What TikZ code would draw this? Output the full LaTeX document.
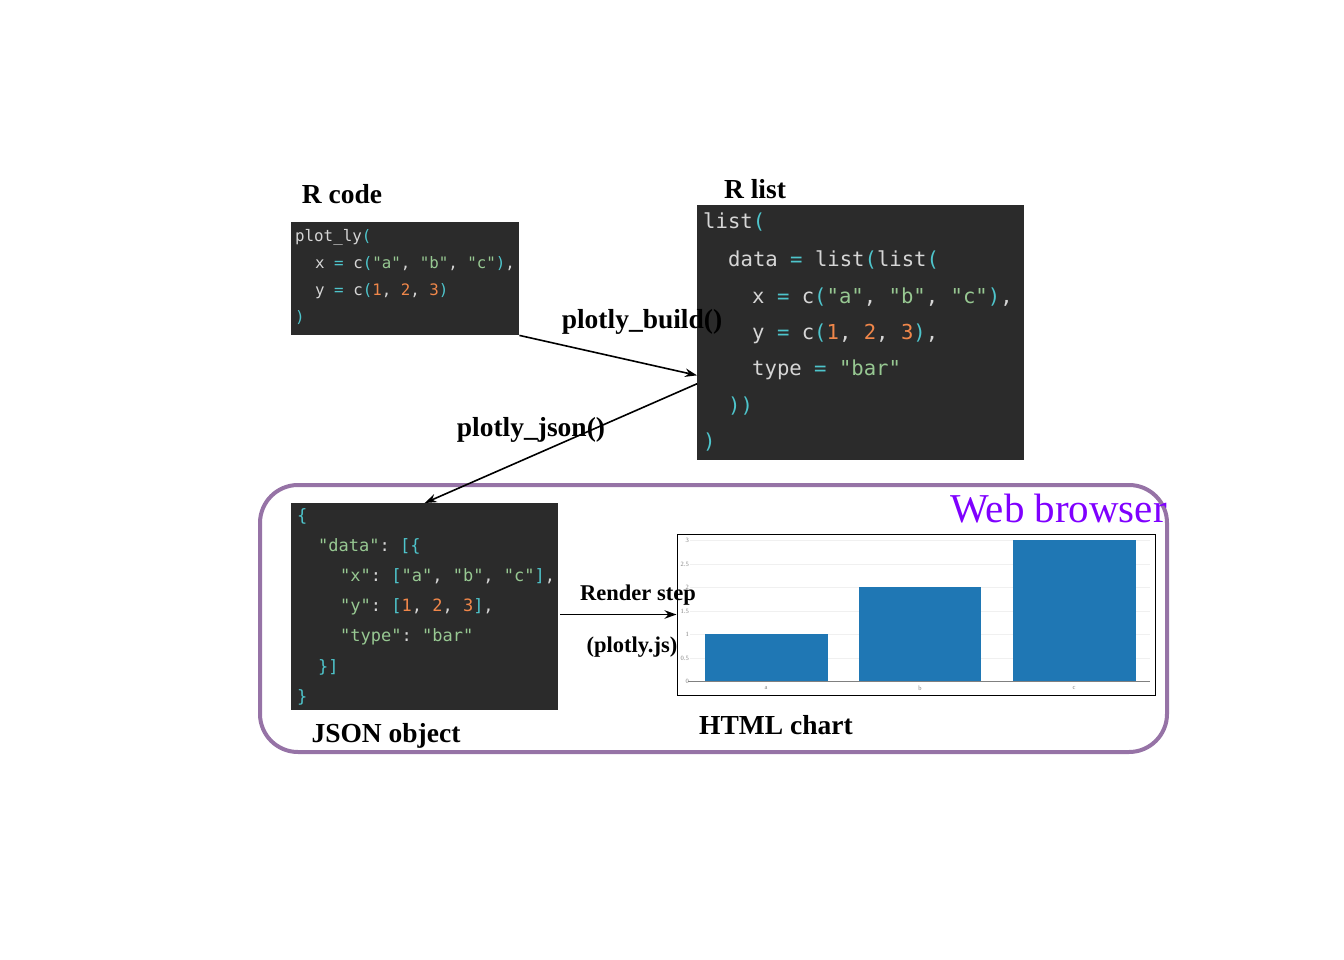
\documentclass[tikz,border=0pt]{standalone}
\usepackage{fontspec}
\setmainfont{Liberation Serif}
\setmonofont{DejaVu Sans Mono}
\usetikzlibrary{arrows.meta,calc}
\definecolor{codebg}{HTML}{2B2B2B}
\definecolor{codetext}{HTML}{D6D6D6}
\definecolor{ccyan}{HTML}{4EC5CC}
\definecolor{cgreen}{HTML}{97C892}
\definecolor{corange}{HTML}{F0874A}
\definecolor{barblue}{HTML}{1F77B4}
\definecolor{browserframe}{HTML}{9673A6}
\definecolor{browsertext}{HTML}{7F00FF}
\newcommand\Ccy[1]{\textcolor{ccyan}{#1}}
\newcommand\Cgr[1]{\textcolor{cgreen}{#1}}
\newcommand\Cor[1]{\textcolor{corange}{#1}}
\begin{document}
\begin{tikzpicture}[x=1pt,y=-1pt,
  codebox/.style={fill=codebg, draw=none, inner sep=0pt, anchor=north west},
  lbl/.style={inner sep=0pt, font=\fontsize{27.5}{30}\selectfont\bfseries},
  small/.style={inner sep=0pt, font=\fontsize{22.5}{26}\selectfont\bfseries},
  rc/.style={anchor=base west, inner sep=0pt, text=codetext, font=\ttfamily\fontsize{15.8}{18}\selectfont},
  rl/.style={anchor=base west, inner sep=0pt, text=codetext, font=\ttfamily\fontsize{20.6}{24}\selectfont},
  js/.style={anchor=base west, inner sep=0pt, text=codetext, font=\ttfamily\fontsize{17}{20}\selectfont},
  arr/.style={-{Stealth[length=12pt,width=8.5pt]}, line width=1.6pt},
  tick/.style={inner sep=0pt, text=gray, font=\fontsize{6.5}{7}\selectfont},
  grid/.style={draw=gray!12, line width=0.6pt}]
\useasboundingbox (0,0) rectangle (1344,960);

% Web browser frame
\node[draw=browserframe, line width=4pt, rounded corners=38pt, minimum width=907pt, minimum height=267pt, inner sep=0pt] (browser) at (713.5,618.5) {};
\node[anchor=east, inner sep=0pt, text=browsertext, font=\fontsize{41}{44}\selectfont] (webtitle) at (1167,509) {Web browser};

% R code
\node[lbl] (rcodelbl) at (342,194) {R code};
\node[codebox, minimum width=228pt, minimum height=113pt] (rcode) at (291,222) {};
\node[rc] (rc1) at (295,241) {plot\_ly\Ccy{(}};
\node[rc] (rc2) at (315,268) {x \Ccy{=} c\Ccy{(}\Cgr{"a"}, \Cgr{"b"}, \Cgr{"c"}\Ccy{)},};
\node[rc] (rc3) at (315,295) {y \Ccy{=} c\Ccy{(}\Cor{1}, \Cor{2}, \Cor{3}\Ccy{)}};
\node[rc] (rc4) at (295,322) {\Ccy{)}};

% R list
\node[lbl] (rlistlbl) at (755,189) {R list};
\node[codebox, minimum width=327pt, minimum height=255pt] (rlist) at (697,205) {};
\node[rl] (rl1) at (703,229) {list\Ccy{(}};
\node[rl] (rl2) at (728,266) {data \Ccy{=} list\Ccy{(}list\Ccy{(}};
\node[rl] (rl3) at (752,303) {x \Ccy{=} c\Ccy{(}\Cgr{"a"}, \Cgr{"b"}, \Cgr{"c"}\Ccy{)},};
\node[rl] (rl4) at (752,339) {y \Ccy{=} c\Ccy{(}\Cor{1}, \Cor{2}, \Cor{3}\Ccy{)},};
\node[rl] (rl5) at (752,375) {type \Ccy{=} \Cgr{"bar"}};
\node[rl] (rl6) at (728,412) {\Ccy{))}};
\node[rl] (rl7) at (703,448) {\Ccy{)}};

% JSON
\node[codebox, minimum width=267pt, minimum height=207pt] (json) at (291,503) {};
\node[js] (js1) at (297,521) {\Ccy{\{}};
\node[js] (js2) at (318,551) {\Cgr{"data"}: \Ccy{[\{}};
\node[js] (js3) at (340,581) {\Cgr{"x"}: \Ccy{[}\Cgr{"a"}, \Cgr{"b"}, \Cgr{"c"}\Ccy{]},};
\node[js] (js4) at (340,611) {\Cgr{"y"}: \Ccy{[}\Cor{1}, \Cor{2}, \Cor{3}\Ccy{]},};
\node[js] (js5) at (340,641) {\Cgr{"type"}: \Cgr{"bar"}};
\node[js] (js6) at (318,672) {\Ccy{\}]}};
\node[js] (js7) at (297,702) {\Ccy{\}}};
\node[lbl] (jsonlbl) at (386,736) {JSON object};

% Chart
\node[draw=black, line width=1pt, minimum width=478pt, minimum height=161pt, inner sep=0pt] (chart) at (916,614.5) {};
\foreach \yy in {658,634,611,587,564,540} \draw[grid] (690,\yy) -- (1150,\yy);
\fill[barblue] (705,634) rectangle (828,681);
\fill[barblue] (859,587) rectangle (981,681);
\fill[barblue] (1013,540) rectangle (1136,681);
\draw[gray, line width=0.8pt] (688,681) -- (1150,681);
\node[tick, anchor=east] (t0) at (689,681) {0};
\node[tick, anchor=east] (t05) at (689,658) {0.5};
\node[tick, anchor=east] (t1) at (689,634) {1};
\node[tick, anchor=east] (t15) at (689,611) {1.5};
\node[tick, anchor=east] (t2) at (689,587) {2};
\node[tick, anchor=east] (t25) at (689,564) {2.5};
\node[tick, anchor=east] (t3) at (689,540) {3};
\node[tick] (xa) at (766,688) {a};
\node[tick] (xb) at (920,688) {b};
\node[tick] (xc) at (1074,688) {c};
\node[lbl] (chartlbl) at (776,725) {HTML chart};

% Connectors
\draw[arr] (rcode.south east) -- ($(rlist.north west)!0.667!(rlist.south west)$);
\draw[arr] ($(rlist.north west)!0.70!(rlist.south west)$) -- (json.north);
\draw[arr] ($(json.east |- chart.west)+(2,0)$) -- (chart.west);

% Labels of connectors
\node[lbl] (buildlbl) at (642,322) {plotly\_build()};
\node[lbl] (jsonfn) at (531,430) {plotly\_json()};
\node[small] (renderlbl) at (638,595) {Render step};
\node[small] (plotlyjs) at (632,647) {(plotly.js)};
\end{tikzpicture}
\end{document}
